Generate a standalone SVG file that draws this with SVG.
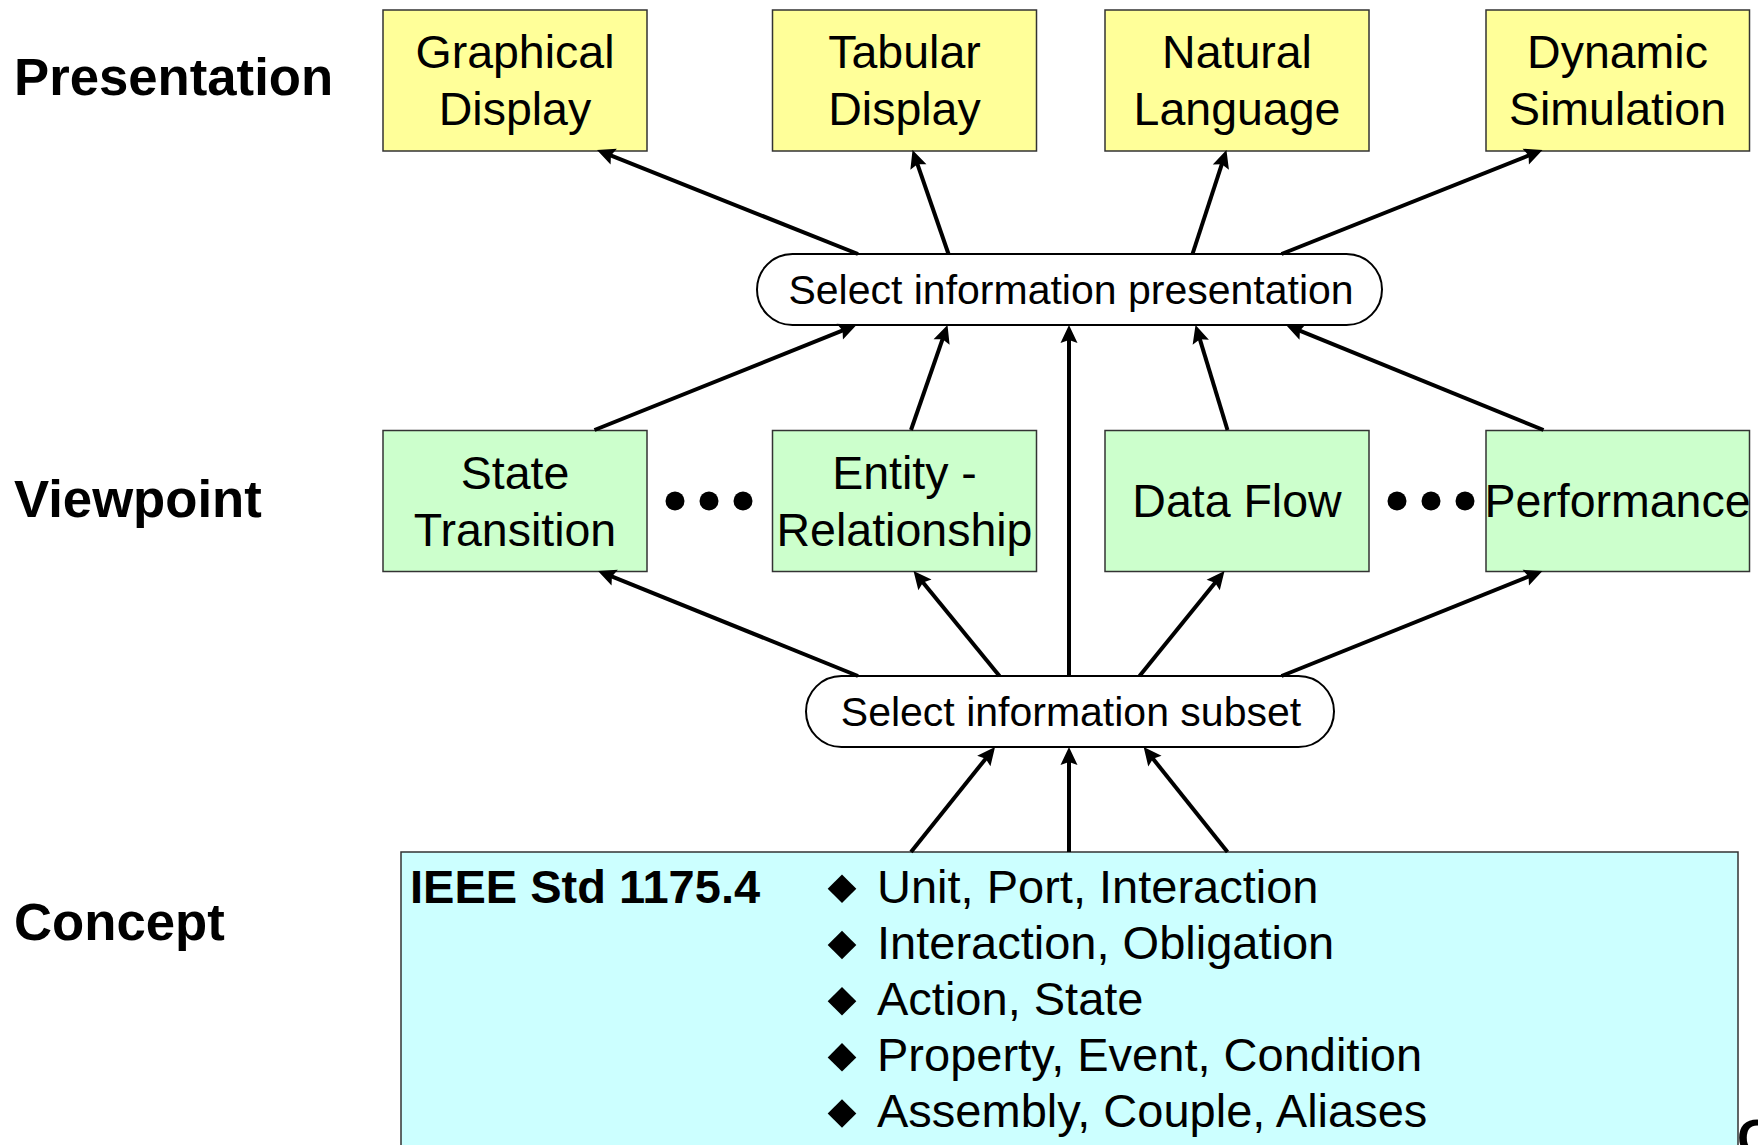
<svg xmlns="http://www.w3.org/2000/svg" width="1758" height="1145" viewBox="0 0 1758 1145">
<style>
.lbl{font-family:"Liberation Sans",Arial,sans-serif;font-weight:bold;font-size:52.7px;fill:#000}
.bt{font-family:"Liberation Sans",Arial,sans-serif;font-size:46.5px;fill:#000;text-anchor:middle}
.st{font-family:"Liberation Sans",Arial,sans-serif;font-size:41px;fill:#000;text-anchor:middle}
.ct{font-family:"Liberation Sans",Arial,sans-serif;font-size:47px;fill:#000}
.pres{fill:#FFFF99;stroke:#333;stroke-width:1.5}
.view{fill:#CCFFCC;stroke:#333;stroke-width:1.5}
.conc{fill:#CCFFFF;stroke:#333;stroke-width:1.5}
.stad{fill:#fff;stroke:#000;stroke-width:2}
.arr{stroke:#000;stroke-width:4;fill:none;marker-end:url(#ah)}
</style>
<defs>
<marker id="ah" markerUnits="userSpaceOnUse" markerWidth="30" markerHeight="30" refX="0" refY="0" viewBox="-10 -15 30 30" orient="auto" overflow="visible">
<path d="M14,0 L-4,-8.5 L-1,0 L-4,8.5 Z" fill="#000"/>
</marker>
</defs>
<rect width="1758" height="1145" fill="#fff"/>

<g id="layer-labels">
<text class="lbl" x="14" y="95">Presentation</text>
<text class="lbl" x="14" y="517">Viewpoint</text>
<text class="lbl" x="14" y="940">Concept</text>
</g>

<g id="graphical-display">
<rect class="pres" x="383" y="10" width="264" height="141"/>
<text class="bt" x="515" y="68">Graphical</text>
<text class="bt" x="515" y="125">Display</text>
</g>
<g id="tabular-display">
<rect class="pres" x="772.5" y="10" width="264" height="141"/>
<text class="bt" x="904.5" y="68">Tabular</text>
<text class="bt" x="904.5" y="125">Display</text>
</g>
<g id="natural-language">
<rect class="pres" x="1105" y="10" width="264" height="141"/>
<text class="bt" x="1237" y="68">Natural</text>
<text class="bt" x="1237" y="125">Language</text>
</g>
<g id="dynamic-simulation">
<rect class="pres" x="1486" y="10" width="263.5" height="141"/>
<text class="bt" x="1617.5" y="68">Dynamic</text>
<text class="bt" x="1617.5" y="125">Simulation</text>
</g>

<g id="select-presentation">
<rect class="stad" x="757" y="254" width="625" height="71" rx="35.5" ry="35.5"/>
<text class="st" x="1071" y="303.5">Select information presentation</text>
</g>

<g id="state-transition">
<rect class="view" x="383" y="430.5" width="264" height="141"/>
<text class="bt" x="515" y="489">State</text>
<text class="bt" x="515" y="546">Transition</text>
</g>
<g id="entity-relationship">
<rect class="view" x="772.5" y="430.5" width="264" height="141"/>
<text class="bt" x="904.5" y="489">Entity -</text>
<text class="bt" x="904.5" y="546">Relationship</text>
</g>
<g id="data-flow">
<rect class="view" x="1105" y="430.5" width="264" height="141"/>
<text class="bt" x="1237" y="517">Data Flow</text>
</g>
<g id="performance">
<rect class="view" x="1486" y="430.5" width="263.5" height="141"/>
<text class="bt" x="1617.5" y="517">Performance</text>
</g>

<g id="ellipsis-1" fill="#000">
<circle cx="675" cy="501" r="9.5"/>
<circle cx="709" cy="501" r="9.5"/>
<circle cx="743" cy="501" r="9.5"/>
</g>
<g id="ellipsis-2" fill="#000">
<circle cx="1397" cy="501" r="9.5"/>
<circle cx="1431" cy="501" r="9.5"/>
<circle cx="1465" cy="501" r="9.5"/>
</g>

<g id="select-subset">
<rect class="stad" x="806" y="676" width="528" height="71" rx="35.5" ry="35.5"/>
<text class="st" x="1071" y="726">Select information subset</text>
</g>

<g id="concept-box">
<rect class="conc" x="401" y="852" width="1337" height="320"/>
<text class="ct" x="410" y="903" font-weight="bold" font-size="46.5">IEEE Std 1175.4</text>
<g fill="#000">
<polygon points="842,874.5 856.3,888.8 842,903 827.7,888.8"/>
<polygon points="842,930.7 856.3,945 842,959.2 827.7,945"/>
<polygon points="842,986.9 856.3,1001.2 842,1015.4 827.7,1001.2"/>
<polygon points="842,1043.1 856.3,1057.4 842,1071.6 827.7,1057.4"/>
<polygon points="842,1099.3 856.3,1113.6 842,1127.8 827.7,1113.6"/>
</g>
<text class="ct" x="877" y="902.5">Unit, Port, Interaction</text>
<text class="ct" x="877" y="958.7">Interaction, Obligation</text>
<text class="ct" x="877" y="1014.9">Action, State</text>
<text class="ct" x="877" y="1071.1">Property, Event, Condition</text>
<text class="ct" x="877" y="1127.3">Assembly, Couple, Aliases</text>
</g>

<g id="partial-glyph">
<text class="lbl" x="1737" y="1156">C</text>
</g>

<g id="connectors">
<line class="arr" x1="858" y1="254" x2="610.0" y2="155.2"/>
<line class="arr" x1="948.5" y1="254" x2="917.1" y2="163.2"/>
<line class="arr" x1="1192.5" y1="254" x2="1222.1" y2="163.3"/>
<line class="arr" x1="1281.5" y1="254" x2="1529.5" y2="155.2"/>

<line class="arr" x1="594.5" y1="430" x2="843.5" y2="330.2"/>
<line class="arr" x1="911" y1="430" x2="942.9" y2="338.2"/>
<line class="arr" x1="1069" y1="676" x2="1069" y2="339"/>
<line class="arr" x1="1227.5" y1="430" x2="1199.6" y2="338.4"/>
<line class="arr" x1="1543.5" y1="430" x2="1299.0" y2="330.3"/>

<line class="arr" x1="858" y1="676" x2="611.0" y2="576.2"/>
<line class="arr" x1="999.5" y1="676" x2="922.4" y2="581.8"/>
<line class="arr" x1="1139.5" y1="676" x2="1215.7" y2="581.9"/>
<line class="arr" x1="1281.5" y1="676" x2="1529.5" y2="576.2"/>

<line class="arr" x1="911" y1="852" x2="986.3" y2="757.9"/>
<line class="arr" x1="1069" y1="852" x2="1069" y2="761"/>
<line class="arr" x1="1227.5" y1="852" x2="1152.4" y2="758.0"/>
</g>
</svg>
